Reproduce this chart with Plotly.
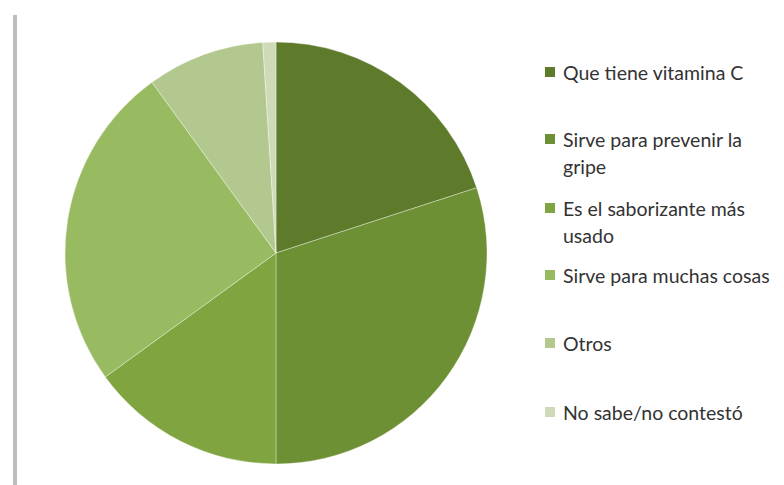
import plotly.graph_objects as go

# Survey answers and their share of responses (%)
legend_lines = [
    ["Que tiene vitamina C"],
    ["Sirve para prevenir la", "gripe"],
    ["Es el saborizante más", "usado"],
    ["Sirve para muchas cosas"],
    ["Otros"],
    ["No sabe/no contestó"],
]
labels = [" ".join(lines) for lines in legend_lines]
values = [20, 30, 15, 25, 9, 1]
colors = ["#5e7b2c", "#6e9034", "#7fa440", "#98ba60", "#b3c88f", "#cfdbb8"]

W, H = 784, 485

fig = go.Figure(
    go.Pie(
        labels=labels,
        values=values,
        sort=False,
        direction="clockwise",
        rotation=0,
        textinfo="none",
        hoverinfo="label+percent",
        marker=dict(colors=colors, line=dict(color="rgba(255,255,255,0.35)", width=1)),
        domain=dict(x=[65 / W, 487 / W], y=[1 - 468 / H, 1 - 38 / H]),
        showlegend=False,
    )
)

# Hand-placed legend: square swatch + one annotation per text line
entry_y = [72, 139, 208, 275, 343, 412]
line_step = 27
shapes = [
    dict(type="line", xref="paper", yref="paper",
         x0=15 / W, x1=15 / W, y0=0, y1=1 - 15 / H,
         line=dict(color="#bdbdbd", width=4)),
]
annotations = []
for lines, color, y in zip(legend_lines, colors, entry_y):
    shapes.append(dict(
        type="rect", xref="paper", yref="paper",
        x0=545 / W, x1=555 / W, y0=1 - (y + 5) / H, y1=1 - (y - 5) / H,
        fillcolor=color, line=dict(width=0),
    ))
    for i, text in enumerate(lines):
        annotations.append(dict(
            text=text, xref="paper", yref="paper",
            x=561 / W, y=1 - (y + i * line_step) / H,
            xanchor="left", yanchor="middle", showarrow=False,
            font=dict(family="Lato", size=19.5, color="#333333"),
        ))

fig.update_layout(
    width=W, height=H,
    margin=dict(l=0, r=0, t=0, b=0),
    paper_bgcolor="white",
    plot_bgcolor="white",
    shapes=shapes,
    annotations=annotations,
)

fig.write_html("out.html")
